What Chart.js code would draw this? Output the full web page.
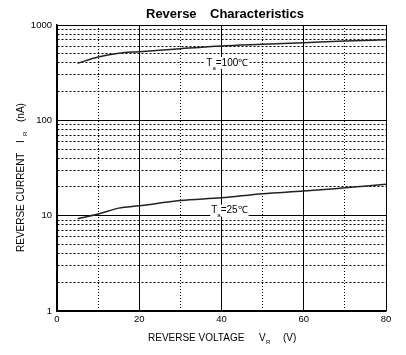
<!DOCTYPE html>
<html><head><meta charset="utf-8">
<script src="https://cdn.jsdelivr.net/npm/chart.js@4/dist/chart.umd.min.js"></script>
<style>html,body{margin:0;padding:0;background:#fff}#wrap{width:406px;height:355px}</style>
</head><body><div id="wrap"><canvas id="c" width="406" height="355"></canvas></div>
<script>
const voltage = [5, 10, 15, 20, 30, 40, 50, 60, 70, 80];
const current100 = [396, 462, 505, 525, 564, 602, 627, 652, 679, 701];
const current25 = [9.3, 10.4, 12.0, 12.7, 14.4, 15.4, 17.0, 18.1, 19.6, 21.3];
const yGridValues = [1,2,3,4,5,6,7,8,9,10,20,30,40,50,60,70,80,90,100,200,300,400,500,600,700,800,900,1000];
const yTickLabels = ['1', '10', '100', '1000'];
const xTickLabels = ['0', '20', '40', '60', '80'];
const xGridValues = [0,10,20,30,40,50,60,70,80];

const FONT = '"Liberation Sans", Arial, sans-serif';

const textPlugin = {
  id: 'texts',
  afterDraw(chart) {
    const c = chart.ctx;
    const xs = chart.scales.x, ys = chart.scales.y;
    c.save();
    c.fillStyle = '#000';
    c.font = 'bold 13px ' + FONT;
    c.textBaseline = 'middle';
    c.textAlign = 'left';
    c.fillText('Reverse', 146, 14);
    c.fillText('Characteristics', 210, 14);
    c.font = '10px ' + FONT;
    c.fillText('REVERSE VOLTAGE', 148, 338);
    c.fillText('V', 259, 338);
    c.font = '6px ' + FONT;
    c.fillText('R', 266, 342);
    c.font = '10px ' + FONT;
    c.fillText('(V)', 283, 338);
    c.translate(21, 0);
    c.rotate(-Math.PI / 2);
    c.font = '10px ' + FONT;
    c.fillText('REVERSE CURRENT', -252, 0);
    c.fillText('I', -143, 0);
    c.font = '6px ' + FONT;
    c.fillText('R', -136, 4);
    c.font = '10px ' + FONT;
    c.fillText('(nA)', -122, 0);
    c.restore();
    function label(xv, yv, num) {
      const px = xs.getPixelForValue(xv), py = ys.getPixelForValue(yv);
      c.save();
      c.font = '10px ' + FONT;
      const w1 = c.measureText('T').width;
      c.font = '6px ' + FONT;
      const w2 = c.measureText('a').width;
      c.font = '10px ' + FONT;
      const w3 = c.measureText('=' + num + '\u2103').width;
      c.fillStyle = '#fff';
      c.fillRect(px - 1, py - 6, w1 + w2 + w3 + 2, 12);
      c.fillStyle = '#000';
      c.textBaseline = 'middle';
      c.textAlign = 'left';
      c.fillText('T', px, py);
      c.font = '6px ' + FONT;
      c.fillText('a', px + w1, py + 5);
      c.font = '10px ' + FONT;
      c.fillText('=' + num + '\u2103', px + w1 + w2, py);
      c.restore();
    }
    label(36.3, 400, '100');
    label(37.5, 11.3, '25');
  }
};

function isMajorY(v) { return [1,10,100,1000].includes(v); }

new Chart(document.getElementById('c'), {
  type: 'line',
  data: {
    datasets: [
      { data: voltage.map((v, i) => ({x: v, y: current100[i]})), borderColor: '#222', borderWidth: 1.5, pointRadius: 0, cubicInterpolationMode: 'monotone', fill: false },
      { data: voltage.map((v, i) => ({x: v, y: current25[i]})), borderColor: '#222', borderWidth: 1.5, pointRadius: 0, cubicInterpolationMode: 'monotone', fill: false }
    ]
  },
  options: {
    responsive: false,
    animation: false,
    devicePixelRatio: 1,
    layout: { padding: { left: 0, right: 20, top: 25, bottom: 0 } },
    plugins: { legend: { display: false }, tooltip: { enabled: false }, title: { display: false } },
    scales: {
      x: {
        type: 'linear', min: 0, max: 80,
        afterBuildTicks(s) { s.ticks = xGridValues.map(v => ({value: v})); },
        afterFit(s) { s.height = 44; },
        ticks: {
          autoSkip: false, maxRotation: 0, padding: 3, color: '#000',
          font: { family: FONT, size: 9.5 },
          callback(v) { const t = String(v); return xTickLabels.includes(t) ? t : ''; }
        },
        grid: { drawTicks: false, color: '#000', lineWidth: 1 },
        border: {
          display: true, color: '#000', width: 1.5,
          dash: ctx => (ctx.tick && ctx.tick.value % 20 !== 0) ? [1, 2] : []
        }
      },
      y: {
        type: 'logarithmic', min: 1, max: 1000,
        afterBuildTicks(s) { s.ticks = yGridValues.map(v => ({value: v})); },
        afterFit(s) { s.width = 57; },
        ticks: {
          autoSkip: false, padding: 5, color: '#000',
          font: { family: FONT, size: 9.5 },
          callback(v) { const t = String(v); return yTickLabels.includes(t) ? t : ''; }
        },
        grid: { drawTicks: false, color: '#000', lineWidth: 1 },
        border: {
          display: true, color: '#000', width: 1.5,
          dash: ctx => (ctx.tick && !isMajorY(ctx.tick.value)) ? [2, 2] : []
        }
      }
    }
  },
  plugins: [textPlugin]
});
</script></body></html>
